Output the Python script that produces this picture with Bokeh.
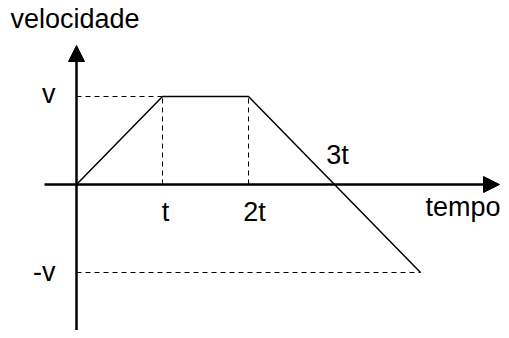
from bokeh.plotting import figure
from bokeh.models import Range1d, Arrow, NormalHead
from bokeh.core.properties import value
from bokeh.embed import file_html
from bokeh.resources import INLINE

# data (time in units of t, velocity in units of v)
times = [0, 1, 2, 4]
speeds = [0, 1, 1, -1]
x_tick_pos = [1, 2]
x_tick_labels = ["t", "2t"]
cross_pos = [3]
cross_label = ["3t"]
y_tick_pos = [1, -1]
y_tick_labels = ["v", "-v"]
x_title = "tempo"
y_title = "velocidade"

W, H = 501, 330
# pixel scale: 86 px per t, 88 px per v, origin at (76,184)
ux, uy = 86.0, 88.0
ox, oy = 76, 184
x0 = -ox / ux
x1 = (W - ox) / ux
y1 = oy / uy
y0 = -(H - oy) / uy

p = figure(width=W, height=H, output_backend="svg", toolbar_location=None,
           x_range=Range1d(x0, x1), y_range=Range1d(y0, y1), min_border=0)
p.axis.visible = False
p.grid.visible = False
p.outline_line_color = None
p.background_fill_color = "white"
p.border_fill_color = "white"

font = value("Liberation Sans")
fs = "27px"


def px(sx):
    return (sx - ox) / ux


def py(sy):
    return (oy - sy) / uy


# dashed guides
dash = "5 4"
p.line([0, times[1]], [speeds[1], speeds[1]], line_color="black", line_width=1, line_dash=dash)
p.line([times[1], times[1]], [0, speeds[1]], line_color="black", line_width=1, line_dash=dash)
p.line([times[2], times[2]], [0, speeds[2]], line_color="black", line_width=1, line_dash=dash)
p.line([0, times[3]], [speeds[3], speeds[3]], line_color="black", line_width=1, line_dash=dash)

# axes with arrows
p.add_layout(Arrow(end=NormalHead(size=16, fill_color="black", line_color="black"),
                   x_start=px(44), y_start=0, x_end=px(499), y_end=0,
                   line_width=2.5, line_color="black"))
p.add_layout(Arrow(end=NormalHead(size=16, fill_color="black", line_color="black"),
                   x_start=0, y_start=y0, x_end=0, y_end=py(45),
                   line_width=2.5, line_color="black"))

# velocity curve
p.line(times, speeds, line_color="black", line_width=1.5)

# labels (top-anchored)
p.text([x_tick_pos[0] + 3 / ux, x_tick_pos[1] + 6 / ux], [py(196)] * 2, text=x_tick_labels,
       text_font=font, text_font_size=fs, text_align="center", text_baseline="top")
p.text([cross_pos[0] + 3 / ux], [py(139)], text=cross_label,
       text_font=font, text_font_size=fs, text_align="center", text_baseline="top")
p.text([px(55), px(55)], [py(78), py(256)], text=y_tick_labels,
       text_font=font, text_font_size=fs, text_align="right", text_baseline="top")
p.text([px(425)], [py(191)], text=[x_title],
       text_font=font, text_font_size=fs, text_align="left", text_baseline="top")
p.text([px(10)], [py(3)], text=[y_title],
       text_font=font, text_font_size=fs, text_align="left", text_baseline="top")

open("out.html", "w").write(file_html(p, INLINE))
